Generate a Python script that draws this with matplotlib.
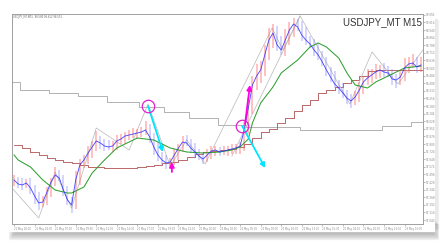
import numpy as np
import pandas as pd
import matplotlib
matplotlib.use("Agg")
import matplotlib.pyplot as plt
from matplotlib.patches import Rectangle

# closing prices, one per bar
close = [97.44, 97.40, 97.39, 97.41, 97.36, 97.28, 97.21, 97.22, 97.32, 97.42,
         97.49, 97.46, 97.34, 97.24, 97.19, 97.44, 97.59, 97.64, 97.71, 97.77,
         97.83, 97.81, 97.78, 97.77, 97.78, 97.83, 97.85, 97.88, 97.89, 97.90,
         97.91, 97.92, 97.94, 97.87, 97.77, 97.69, 97.64, 97.61, 97.62, 97.69,
         97.76, 97.82, 97.81, 97.76, 97.72, 97.68, 97.65, 97.69, 97.73, 97.74,
         97.72, 97.73, 97.74, 97.75, 97.76, 97.78, 97.94, 98.16, 98.39, 98.48,
         98.54, 98.69, 98.84, 98.91, 98.79, 98.74, 98.84, 98.94, 99.00, 98.97,
         98.89, 98.84, 98.80, 98.74, 98.69, 98.62, 98.54, 98.47, 98.40, 98.36,
         98.31, 98.26, 98.23, 98.27, 98.34, 98.42, 98.46, 98.49, 98.52, 98.54,
         98.52, 98.51, 98.45, 98.44, 98.47, 98.56, 98.60, 98.61, 98.57, 98.59]

# wicks above / below the body, in pips (0.01)
wick_up = [5, 3, 6, 4, 5, 3, 4, 6, 5, 4, 8, 5, 3, 4, 3, 9, 6, 5, 7, 6,
           10, 5, 4, 6, 5, 6, 5, 4, 5, 6, 4, 5, 9, 6, 4, 5, 3, 5, 4, 6,
           4, 6, 7, 4, 5, 3, 4, 6, 5, 4, 3, 5, 4, 5, 4, 4, 8, 10, 9, 12,
           9, 10, 12, 9, 7, 9, 11, 8, 6, 5, 6, 8, 4, 5, 6, 4, 5, 3, 6, 4,
           5, 3, 4, 6, 8, 5, 9, 6, 8, 5, 7, 6, 4, 5, 6, 10, 7, 9, 6, 8]
wick_dn = [6, 4, 5, 3, 6, 8, 7, 4, 3, 5, 4, 3, 6, 5, 8, 4, 5, 3, 4, 5,
           4, 6, 5, 3, 5, 4, 3, 5, 4, 3, 5, 4, 3, 6, 8, 6, 5, 6, 4, 3,
           5, 4, 3, 5, 6, 4, 5, 3, 4, 5, 4, 3, 5, 4, 5, 6, 5, 4, 6, 5,
           7, 6, 5, 8, 6, 5, 6, 5, 7, 4, 6, 5, 4, 6, 5, 4, 6, 5, 4, 6,
           5, 6, 7, 4, 5, 4, 3, 5, 4, 6, 5, 4, 6, 8, 5, 4, 5, 4, 6, 5]

# slow moving average (green)
green_i = [0, 1, 4, 7, 10, 13, 14, 17, 19, 22, 25, 28, 30, 34, 38, 42, 46, 50, 53,
           55, 57, 58, 60, 63, 65, 69, 72, 74, 76, 79, 81, 83, 86, 88, 92, 95, 99]
green_v = [97.69, 97.64, 97.57, 97.44, 97.34, 97.31, 97.31, 97.37, 97.51, 97.64,
           97.76, 97.82, 97.86, 97.84, 97.76, 97.72, 97.71, 97.72, 97.74, 97.77,
           97.85, 98.01, 98.21, 98.37, 98.51, 98.64, 98.77, 98.81, 98.77, 98.66,
           98.51, 98.39, 98.36, 98.42, 98.50, 98.56, 98.58]

# stepped line (dark red), every second bar
brown_v = [97.79, 97.76, 97.72, 97.69, 97.66, 97.64, 97.62, 97.61, 97.59, 97.57,
           97.57, 97.56, 97.56, 97.56, 97.56, 97.57, 97.58, 97.59, 97.61, 97.62,
           97.64, 97.67, 97.70, 97.72, 97.73, 97.74, 97.75, 97.77, 97.80, 97.86,
           97.92, 97.95, 98.01, 98.06, 98.13, 98.19, 98.24, 98.31, 98.34, 98.37,
           98.41, 98.44, 98.48, 98.53, 98.54, 98.54, 98.54, 98.54, 98.54, 98.54]

# stepped gray level
gray_edges = [-0.5, 1.5, 8.5, 15.5, 22.5, 30.5, 36.5, 42.5, 49.5, 56.5, 69.5, 89.5, 96.5, 99.5]
gray_v = [98.42, 98.34, 98.31, 98.28, 98.22, 98.17, 98.12, 98.06, 97.99, 97.97,
          97.94, 97.98, 98.02, 98.02]

# zigzag swings
zz_i = [-0.5, 6, 10, 14, 20, 28, 32.6, 38, 42, 46.5, 62.8, 65.4, 69.6, 81.7, 87.1, 93.4, 99.5]
zz_v = [97.36, 97.06, 97.52, 97.16, 97.96, 97.74, 98.20, 97.58, 97.84, 97.60,
        98.96, 98.74, 99.08, 98.20, 98.72, 98.40, 98.74]
zz2_i = [53, 69.6]
zz2_v = [97.68, 99.08]

# signals
circ_i = [32.6, 55.5]
circ_v = [98.18, 97.98]
sell_end_i = [36.2, 61.1]
sell_end_v = [97.72, 97.56]
buy_i = [38.4, 56.2]
buy_v = [97.52, 98.00]
buy_end_i = [38.4, 57.4]
buy_end_v = [97.62, 98.39]

n = len(close)
idx = np.arange(n)
c = np.array(close)
o = np.r_[c[0], c[:-1]]
hi = np.maximum(o, c) + np.array(wick_up) / 100
lo = np.minimum(o, c) - np.array(wick_dn) / 100

fig = plt.figure(figsize=(4.45, 2.44), dpi=100)
fig.patch.set_facecolor("white")

# soft drop shadow under the window
for k in range(8):
    fig.patches.append(Rectangle((0.02 + k * 0.002, 0.02 + k * 0.004), 0.965 - k * 0.004, 0.06,
                                 transform=fig.transFigure, color="k", alpha=0.035, zorder=-3))
    fig.patches.append(Rectangle((0.94, 0.06 + k * 0.004), 0.045 - k * 0.004, 0.86,
                                 transform=fig.transFigure, color="k", alpha=0.03, zorder=-3))
fig.patches.append(Rectangle((0.0, 0.055), 0.975, 0.9, transform=fig.transFigure,
                             color="white", zorder=-2))

ax = fig.add_axes([12 / 445, 20 / 244, 411 / 445, 210 / 244])
ax.set_zorder(5)
ax.set_facecolor("white")

up = c >= o
ax.vlines(idx[up], lo[up], hi[up], color="#ff5c5c", alpha=0.38, lw=1.4, zorder=2)
ax.vlines(idx[~up], lo[~up], hi[~up], color="#7a7aff", alpha=0.32, lw=1.4, zorder=2)

ax.plot(gray_edges, gray_v, drawstyle="steps-post", color="#b2b2b2", lw=0.7, zorder=1)
ax.plot(list(range(0, n, 2)) + [n - 0.5], brown_v + [brown_v[-1]], drawstyle="steps-post",
        color="#b05050", lw=0.6, zorder=1)
ax.plot(zz_i, zz_v, color="#bdbdbd", lw=0.55, zorder=1)
ax.plot(zz2_i, zz2_v, color="#bdbdbd", lw=0.55, zorder=1)
ax.plot(green_i, green_v, color="#30a030", lw=0.75, zorder=3)
ax.plot(idx, c, color="#3030ff", lw=0.65, alpha=0.85, zorder=4)

for i in range(len(circ_i)):
    ax.annotate("", xy=(sell_end_i[i], sell_end_v[i]), xytext=(circ_i[i], circ_v[i]),
                arrowprops=dict(arrowstyle="-|>", color="#00e5ff", lw=1.3,
                                mutation_scale=7, shrinkA=0, shrinkB=0), zorder=6)
    ax.annotate("", xy=(buy_end_i[i], buy_end_v[i]), xytext=(buy_i[i], buy_v[i]),
                arrowprops=dict(arrowstyle="-|>", color="#ff00e0", lw=1.3,
                                mutation_scale=7, shrinkA=0, shrinkB=0), zorder=6)
ax.plot(circ_i, circ_v, "o", ms=9, mfc="none", mec="#e020d0", mew=0.9, zorder=7)

ax.set_xlim(-0.5, n - 0.5)
ax.set_ylim(97.00, 99.10)

for s in ax.spines.values():
    s.set_color("#a0a0a0")
    s.set_linewidth(0.7)

yt = np.arange(97.04, 99.10, 0.076)
ax.yaxis.tick_right()
ax.set_yticks(yt)
ax.set_yticklabels(["%.3f" % v for v in yt], fontsize=2.0, color="#555555")
times = pd.date_range("2013-05-21 02:00", periods=n, freq="30min")
xt = np.arange(0, n, 5)
ax.set_xticks(xt)
ax.set_xticklabels([times[int(t)].strftime("%d %b %H:%M") for t in xt],
                   fontsize=1.8, color="#555555", ha="left")
ax.tick_params(length=1.2, width=0.4, pad=0.8, colors="#888888")

ax.text(0.997, 0.985, "USDJPY_MT M15", transform=ax.transAxes, ha="right", va="top",
        fontsize=7, color="#333333", family="Liberation Sans")
ax.text(0.003, 0.997, "USDJPY_MT,M15  98.580 98.612 98.551", transform=ax.transAxes,
        ha="left", va="top", fontsize=1.8, color="#666666")

fig.savefig("out.png", dpi=100)
